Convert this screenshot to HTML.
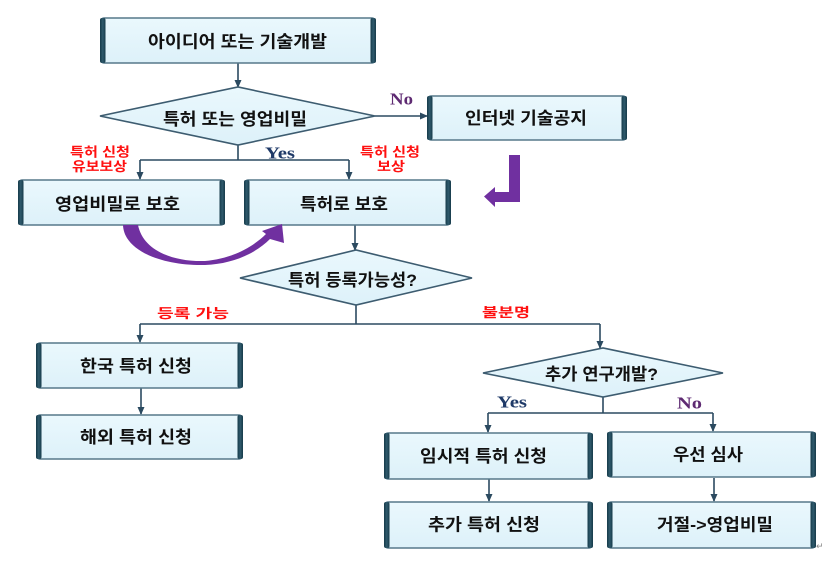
<!DOCTYPE html>
<html>
<head>
<meta charset="utf-8">
<style>
html,body{margin:0;padding:0;background:#fff;}
svg{display:block;}
.t{font-family:"Liberation Sans","Noto Sans CJK KR",sans-serif;font-weight:bold;font-size:17px;fill:#111;}
.r{font-family:"Liberation Sans","Noto Sans CJK KR",sans-serif;font-weight:bold;font-size:13px;fill:#ff1010;}
.s{font-family:"Liberation Serif",serif;font-weight:bold;font-size:17px;}
</style>
</head>
<body>
<svg width="832" height="565" viewBox="0 0 832 565" xmlns="http://www.w3.org/2000/svg">
<defs>
<marker id="ah" markerWidth="8" markerHeight="8" refX="7" refY="4" orient="auto" markerUnits="userSpaceOnUse">
<path d="M0,0.5 L8,4 L0,7.5 Z" fill="#2b4a60"/>
</marker>
<linearGradient id="cap" x1="0" y1="0" x2="1" y2="0">
<stop offset="0" stop-color="#163a4a"/>
<stop offset="0.5" stop-color="#2f5a6c"/>
<stop offset="1" stop-color="#163a4a"/>
</linearGradient>
<linearGradient id="fill" x1="0" y1="0" x2="0" y2="1">
<stop offset="0" stop-color="#eaf8fd"/>
<stop offset="1" stop-color="#ddf1f9"/>
</linearGradient>
</defs>

<!-- connectors -->
<g stroke="#2b4a60" stroke-width="1.6" fill="none">
<line x1="238" y1="63" x2="238" y2="87" marker-end="url(#ah)"/>
<line x1="375" y1="116" x2="427" y2="116" marker-end="url(#ah)"/>
<polyline points="238,145 238,160"/>
<polyline points="140,160 349,160"/>
<line x1="140" y1="160" x2="140" y2="179" marker-end="url(#ah)"/>
<line x1="349" y1="160" x2="349" y2="179" marker-end="url(#ah)"/>
<line x1="355" y1="225" x2="355" y2="250" marker-end="url(#ah)"/>
<polyline points="356,305 356,324"/>
<polyline points="140,324 600,324"/>
<line x1="140" y1="324" x2="140" y2="342" marker-end="url(#ah)"/>
<line x1="600" y1="324" x2="600" y2="348" marker-end="url(#ah)"/>
<line x1="141" y1="388" x2="141" y2="414" marker-end="url(#ah)"/>
<polyline points="603,397 603,413"/>
<polyline points="488,413 713,413"/>
<line x1="488" y1="413" x2="488" y2="432" marker-end="url(#ah)"/>
<line x1="713" y1="413" x2="713" y2="431" marker-end="url(#ah)"/>
<line x1="489" y1="479" x2="489" y2="501" marker-end="url(#ah)"/>
<line x1="714" y1="478" x2="714" y2="501" marker-end="url(#ah)"/>
</g>

<!-- diamonds -->
<g fill="url(#fill)" stroke="#3d5c70" stroke-width="1.6">
<polygon points="100,116 238,87 375,116 238,145"/>
<polygon points="240,278 356,250 472,278 356,305"/>
<polygon points="483,373 603,348 723,373 603,397"/>
</g>

<!-- boxes -->
<g>
<g id="boxes" fill="url(#fill)" stroke="#56788a" stroke-width="1.5">
<rect x="101" y="18" width="274" height="45" rx="3"/>
<rect x="428" y="96" width="198" height="44" rx="3"/>
<rect x="19" y="180" width="205" height="45" rx="3"/>
<rect x="245" y="180" width="205" height="45" rx="3"/>
<rect x="37" y="343" width="205" height="45" rx="3"/>
<rect x="37" y="415" width="205" height="44" rx="3"/>
<rect x="385" y="433" width="207" height="46" rx="3"/>
<rect x="608" y="432" width="207" height="45" rx="3"/>
<rect x="385" y="502" width="207" height="46" rx="3"/>
<rect x="608" y="502" width="207" height="46" rx="3"/>
</g>
<g fill="url(#cap)">
<rect x="100" y="18" width="5.5" height="45" rx="2"/><rect x="370.5" y="18" width="5.5" height="45" rx="2"/>
<rect x="427" y="96" width="5.5" height="44" rx="2"/><rect x="621.5" y="96" width="5.5" height="44" rx="2"/>
<rect x="18" y="180" width="5.5" height="45" rx="2"/><rect x="219.5" y="180" width="5.5" height="45" rx="2"/>
<rect x="244" y="180" width="5.5" height="45" rx="2"/><rect x="445.5" y="180" width="5.5" height="45" rx="2"/>
<rect x="36" y="343" width="5.5" height="45" rx="2"/><rect x="237.5" y="343" width="5.5" height="45" rx="2"/>
<rect x="36" y="415" width="5.5" height="44" rx="2"/><rect x="237.5" y="415" width="5.5" height="44" rx="2"/>
<rect x="384" y="433" width="5.5" height="46" rx="2"/><rect x="587.5" y="433" width="5.5" height="46" rx="2"/>
<rect x="607" y="432" width="5.5" height="45" rx="2"/><rect x="810.5" y="432" width="5.5" height="45" rx="2"/>
<rect x="384" y="502" width="5.5" height="46" rx="2"/><rect x="587.5" y="502" width="5.5" height="46" rx="2"/>
<rect x="607" y="502" width="5.5" height="46" rx="2"/><rect x="810.5" y="502" width="5.5" height="46" rx="2"/>
</g>
</g>

<!-- purple arrows -->
<path d="M123,225 C124,252 165,266 205,265 C232,264 255,254 270,239 L284,243 L282,224 L262,231 L266,234 C252,248 230,259 205,261 C172,262 143,250 138,225 Z" fill="#7030a0"/>
<path d="M509,155 L520,155 L520,202 L495,202 L495,207 L484,196.5 L495,187 L495,192 L509,192 Z" fill="#7030a0"/>

<!-- main labels -->
<g class="t" text-anchor="middle" dominant-baseline="central">
<text x="237.5" y="42" textLength="179" lengthAdjust="spacingAndGlyphs">아이디어 또는 기술개발</text>
<text x="235" y="119.5" textLength="144" lengthAdjust="spacingAndGlyphs">특허 또는 영업비밀</text>
<text x="526" y="118.5" textLength="122" lengthAdjust="spacingAndGlyphs">인터넷 기술공지</text>
<text x="117.5" y="204.5" textLength="125" lengthAdjust="spacingAndGlyphs">영업비밀로 보호</text>
<text x="344" y="204.5" textLength="88" lengthAdjust="spacingAndGlyphs">특허로 보호</text>
<text x="352.5" y="280.5" textLength="129" lengthAdjust="spacingAndGlyphs">특허 등록가능성?</text>
<text x="136" y="366.5" textLength="112" lengthAdjust="spacingAndGlyphs">한국 특허 신청</text>
<text x="136" y="437.5" textLength="112" lengthAdjust="spacingAndGlyphs">해외 특허 신청</text>
<text x="601.5" y="374.5" textLength="113" lengthAdjust="spacingAndGlyphs">추가 연구개발?</text>
<text x="483.5" y="456.5" textLength="127" lengthAdjust="spacingAndGlyphs">임시적 특허 신청</text>
<text x="708" y="455" textLength="70" lengthAdjust="spacingAndGlyphs">우선 심사</text>
<text x="484" y="525" textLength="112" lengthAdjust="spacingAndGlyphs">추가 특허 신청</text>
<text x="715" y="525" textLength="116" lengthAdjust="spacingAndGlyphs">거절-&gt;영업비밀</text>
</g>

<!-- red labels -->
<g class="r" text-anchor="middle" dominant-baseline="central">
<text x="100" y="152" textLength="60" lengthAdjust="spacingAndGlyphs">특허 신청</text>
<text x="99.5" y="166.5" textLength="55" lengthAdjust="spacingAndGlyphs">유보보상</text>
<text x="390" y="152" textLength="60" lengthAdjust="spacingAndGlyphs">특허 신청</text>
<text x="391" y="166.5" textLength="28" lengthAdjust="spacingAndGlyphs">보상</text>
<text x="193" y="313.5" textLength="72" lengthAdjust="spacingAndGlyphs">등록 가능</text>
<text x="506" y="312.5" textLength="48" lengthAdjust="spacingAndGlyphs">불분명</text>
</g>

<!-- Yes / No -->
<text class="s" x="390" y="104.5" textLength="23" lengthAdjust="spacingAndGlyphs" fill="#5e2a72">No</text>
<text class="s" x="265" y="158.5" textLength="30" lengthAdjust="spacingAndGlyphs" fill="#1f3a68">Yes</text>
<text class="s" x="497" y="407.5" textLength="30" lengthAdjust="spacingAndGlyphs" fill="#1f3a68">Yes</text>
<text class="s" x="677" y="408.5" textLength="25" lengthAdjust="spacingAndGlyphs" fill="#5e2a72">No</text>

<text x="816" y="549" font-family="DejaVu Sans, sans-serif" font-size="9" fill="#888">↵</text>
</svg>
</body>
</html>
